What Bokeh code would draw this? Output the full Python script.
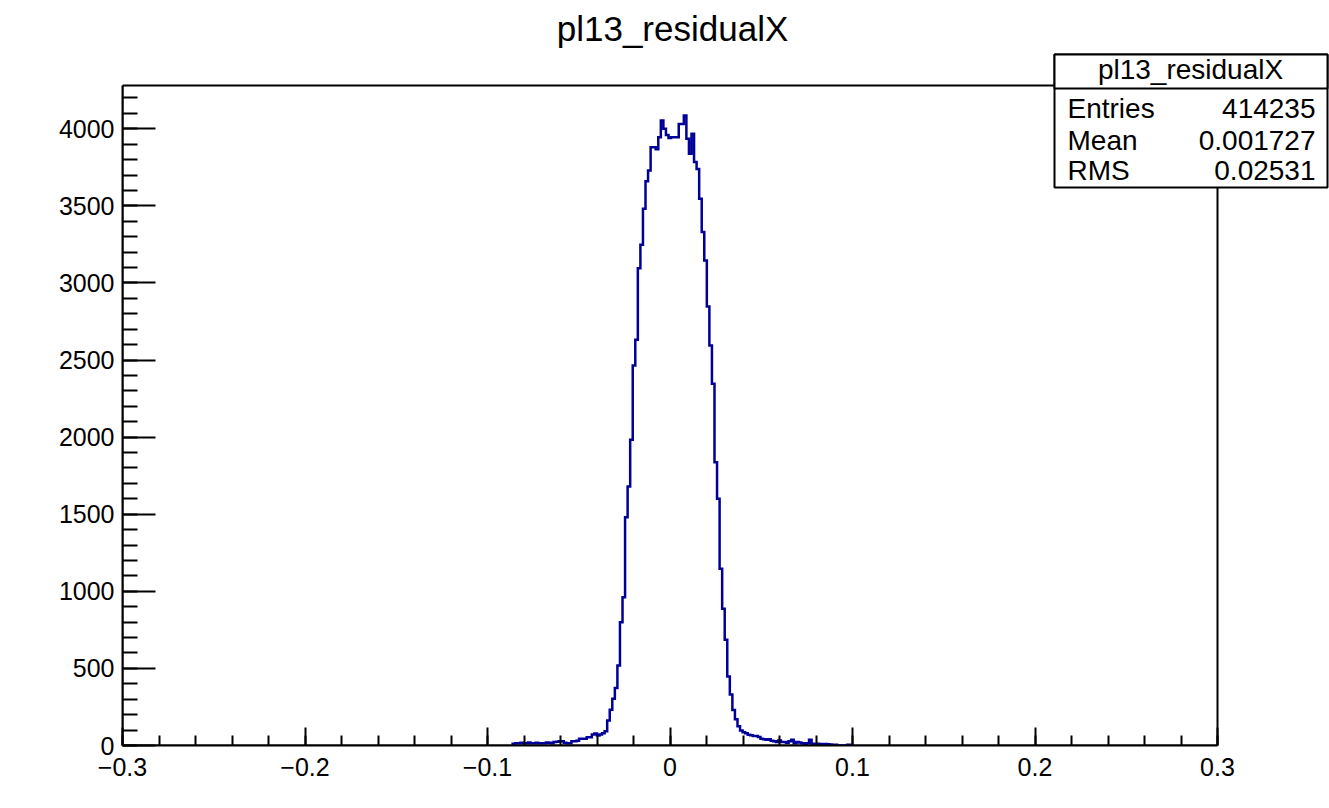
import numpy as np
from bokeh.plotting import figure
from bokeh.models import FixedTicker, Label, BoxAnnotation, Range1d
from bokeh.embed import file_html
from bokeh.resources import INLINE

# ---------------- data ----------------
title_text = "pl13_residualX"
bin_start = -0.08622
bin_width = 0.0014
counts = [
    # left tail
    12, 15, 15, 18, 15, 15, 20, 15, 15, 18, 15, 15, 15, 20, 18, 15, 22,
    25, 28, 28, 18, 15, 15, 28, 28, 30, 43, 43, 43, 54, 54, 71, 78, 65, 72,
    80, 92, 162, 232, 303, 373, 519, 800, 962, 1481, 1680, 1983,
    # core
    2465, 2632, 3096, 3248, 3481, 3660, 3730, 3881, 3881, 3867, 3946, 4054,
    4000, 3960, 3940, 3946, 3946, 3946, 4032, 4032, 4086, 3935, 3838, 3968,
    3784, 3740, 3546, 3330, 3146, 2848, 2595, 2346, 1838, 1600, 1146, 887,
    686, 448, 331, 230, 170,
    # right tail
    125, 97, 86, 80, 69, 66, 62, 62, 55, 43, 40, 37, 40, 30, 28, 22, 32, 22,
    22, 18, 28, 37, 15, 22, 20, 15, 12, 15, 37, 12, 10, 12, 10, 8, 10, 8,
    6, 0, 5, 0, 0, 0, 0, 5,
]
x_ticks = [-0.3, -0.2, -0.1, 0.0, 0.1, 0.2, 0.3]
x_tick_labels = ["\u22120.3", "\u22120.2", "\u22120.1", "0", "0.1", "0.2", "0.3"]
y_ticks = [0, 500, 1000, 1500, 2000, 2500, 3000, 3500, 4000]
x_limits = (-0.3, 0.3)
y_limits = (0, 4281)
stats_title = "pl13_residualX"
stats_names = ["Entries", "Mean", "RMS"]
stats_values = ["414235", "0.001727", "0.02531"]

# ---------------- layout (page pixels) ----------------
FONT = "Liberation Sans"
W, H = 1329, 808
AX0, AX1, AY0, AY1 = 122, 1217, 85, 745      # ROOT frame box on page
# Bokeh frame: left/bottom coincide with ROOT frame, extends to top/right canvas edge
sx = (x_limits[1] - x_limits[0]) / (AX1 - AX0)
sy = (y_limits[1] - y_limits[0]) / (AY1 - AY0)
xr = Range1d(x_limits[0], x_limits[1] + (W - AX1) * sx)
yr = Range1d(y_limits[0], y_limits[1] + AY0 * sy)

p = figure(width=W, height=H, output_backend="svg", toolbar_location=None,
           x_range=xr, y_range=yr,
           min_border_left=AX0, min_border_right=0,
           min_border_top=0, min_border_bottom=H - AY1)
p.background_fill_color = "white"
p.border_fill_color = "white"
p.outline_line_color = None
p.xgrid.grid_line_color = None
p.ygrid.grid_line_color = None

# ROOT frame box
p.quad(left=[x_limits[0]], right=[x_limits[1]], bottom=[y_limits[0]], top=[y_limits[1]],
       fill_color=None, line_color="black", line_width=2)

# histogram outline path from bin edges/counts
c = np.asarray(counts, dtype=float)
edges = bin_start + bin_width * np.arange(len(c) + 1)
path_x = np.repeat(edges, 2)
path_y = np.concatenate([[0.0], np.repeat(c, 2), [0.0]])
p.line(path_x, path_y, line_color="#000099", line_width=2.5, line_join="miter")

# axes
x_step = x_ticks[1] - x_ticks[0]
x_minor = [x_ticks[0] + k * x_step / 5 for k in range(5 * (len(x_ticks) - 1) + 1)]
y_step = y_ticks[1] - y_ticks[0]
y_minor = [k * y_step / 5 for k in range(int(y_limits[1] // (y_step / 5)) + 1)]

xa = p.xaxis[0]
xa.ticker = FixedTicker(ticks=x_ticks, minor_ticks=x_minor)
xa.major_label_overrides = {t: l for t, l in zip(x_ticks, x_tick_labels)}
xa.bounds = x_limits
xa.major_tick_in = 18
xa.major_tick_out = 0
xa.minor_tick_in = 10
xa.minor_tick_out = 0
xa.major_label_standoff = 12

ya = p.yaxis[0]
ya.ticker = FixedTicker(ticks=y_ticks, minor_ticks=y_minor)
ya.bounds = y_limits
ya.major_tick_in = 33
ya.major_tick_out = 0
ya.minor_tick_in = 15
ya.minor_tick_out = 0
ya.major_label_standoff = 8

for ax in (xa, ya):
    ax.axis_line_width = 2
    ax.axis_line_color = "black"
    ax.major_tick_line_width = 2
    ax.minor_tick_line_width = 2
    ax.major_tick_line_color = "black"
    ax.minor_tick_line_color = "black"
    ax.major_label_text_font = FONT
    ax.major_label_text_font_size = "25px"
    ax.major_label_text_color = "black"

# annotations in canvas pixels (top-left origin)
def lab(px, py, text, size, align):
    return Label(x=px, y=py, x_units="canvas", y_units="canvas", text=text,
                 text_font=FONT, text_font_size=size, text_align=align,
                 text_baseline="alphabetic", text_color="black", level="overlay")

def box(l, r, t, b):
    return BoxAnnotation(left=l, right=r, top=t, bottom=b,
                         left_units="canvas", right_units="canvas",
                         top_units="canvas", bottom_units="canvas",
                         fill_color="white", fill_alpha=1.0,
                         line_color="black", line_alpha=1.0, line_width=2,
                         level="overlay")

p.add_layout(lab(672, 28, title_text, "35px", "center"))

p.add_layout(box(1054, 1327, 54, 187))
p.add_layout(box(1054, 1327, 54, 88))
p.add_layout(lab(1190, 69, stats_title, "28px", "center"))
row_baselines = [108, 140, 170]
for name, val, yb in zip(stats_names, stats_values, row_baselines):
    p.add_layout(lab(1067, yb, name, "28px", "left"))
    p.add_layout(lab(1315, yb, val, "28px", "right"))

open("out.html", "w").write(file_html(p, INLINE))
